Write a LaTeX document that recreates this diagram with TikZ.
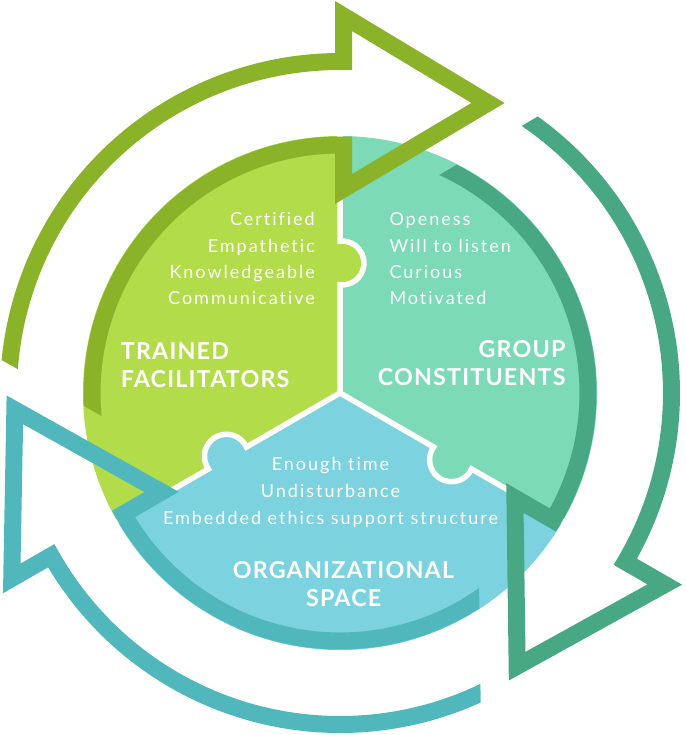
\documentclass[tikz,border=0pt]{standalone}
\usepackage{fontspec}
\setmainfont{Lato}
\newfontfamily\bodyfont[LetterSpace=11,Ligatures=NoCommon]{Lato}
\newfontfamily\headfont[LetterSpace=5,Ligatures=NoCommon]{Lato}
\definecolor{secg}{RGB}{178,220,73}
\definecolor{sect}{RGB}{124,218,182}
\definecolor{secb}{RGB}{124,211,223}
\definecolor{arrg}{RGB}{139,179,42}
\definecolor{arrt}{RGB}{72,168,131}
\definecolor{arrb}{RGB}{80,184,188}
\begin{document}
\begin{tikzpicture}[x=1pt,y=1pt,
  arrowline/.style={line width=17pt, line join=miter, line cap=butt},
  divider/.style={draw=white, line width=5.5pt},
  body/.style={text=white, font=\bodyfont\fontsize{18}{20}\selectfont, inner sep=0pt},
  head/.style={text=white, font=\headfont\bfseries\fontsize{23.3}{26}\selectfont, inner sep=0pt}]
\useasboundingbox (-340,-342) rectangle (345,393);
% disk sectors
\fill[secg] (0,0) -- (90:257) arc[start angle=90, end angle=210, radius=257] -- cycle;
\fill[sect] (0,0) -- (-30:257) arc[start angle=-30, end angle=90, radius=257] -- cycle;
\fill[secb] (0,0) -- (210:257) arc[start angle=210, end angle=330, radius=257] -- cycle;
% puzzle knobs
\foreach \ang/\col in {0/secg, -120/sect, 120/secb}{
  \begin{scope}[rotate=\ang]
    \fill[\col] (2,130) circle[radius=22];
  \end{scope}
}
% white dividers
\foreach \ang in {0, -120, 120}{
  \begin{scope}[rotate=\ang]
    \draw[divider] (0,0) -- (0,108.09) arc[start angle=-95.2, end angle=95.2, radius=22] -- (0,258);
  \end{scope}
}
% circular arrows
\foreach \ang/\col in {0/arrg, -120/arrt, 120/arrb}{
  \begin{scope}[rotate=\ang]
    \clip (-917.8,357.3) -- (303.6,-326.4) -- (889.5,720.5) -- (-331.9,1404.2) -- cycle;
    \draw[arrowline, draw=\col] (200:331.5) arc[start angle=200, end angle=89.395, radius=331.5]
      -- (3.5,377) -- (148,290) -- (3.5,204) -- (89.19:248)
      arc[start angle=89.19, end angle=200, radius=248];
  \end{scope}
}
% texts
\node[body, anchor=base east] (cert) at (-25,167) {Certified};
\node[body, anchor=base east] (empa) at (-25,140.7) {Empathetic};
\node[body, anchor=base east] (know) at (-25,114) {Knowledgeable};
\node[body, anchor=base east] (comm) at (-25,88) {Communicative};
\node[head, anchor=base west] (trai) at (-219.3,33.7) {TRAINED};
\node[head, anchor=base west] (faci) at (-219.3,5.3) {FACILITATORS};
\node[body, anchor=base west] (open) at (49.3,167) {Openess};
\node[body, anchor=base west] (will) at (49.3,140.7) {Will to listen};
\node[body, anchor=base west] (curi) at (49.3,114) {Curious};
\node[body, anchor=base west] (moti) at (49.3,88) {Motivated};
\node[head, anchor=base east] (grou) at (225.7,35.7) {GROUP};
\node[head, anchor=base east] (cons) at (225.7,7.3) {CONSTITUENTS};
\node[body, anchor=base] (enou) at (-9.5,-77.7) {Enough time};
\node[body, anchor=base] (undi) at (-9.5,-104.3) {Undisturbance};
\node[body, anchor=base] (embe) at (-9.5,-131) {Embedded ethics support structure};
\node[head, anchor=base] (orga) at (3.5,-185.7) {ORGANIZATIONAL};
\node[head, anchor=base] (spac) at (3.7,-213.7) {SPACE};
\end{tikzpicture}
\end{document}
